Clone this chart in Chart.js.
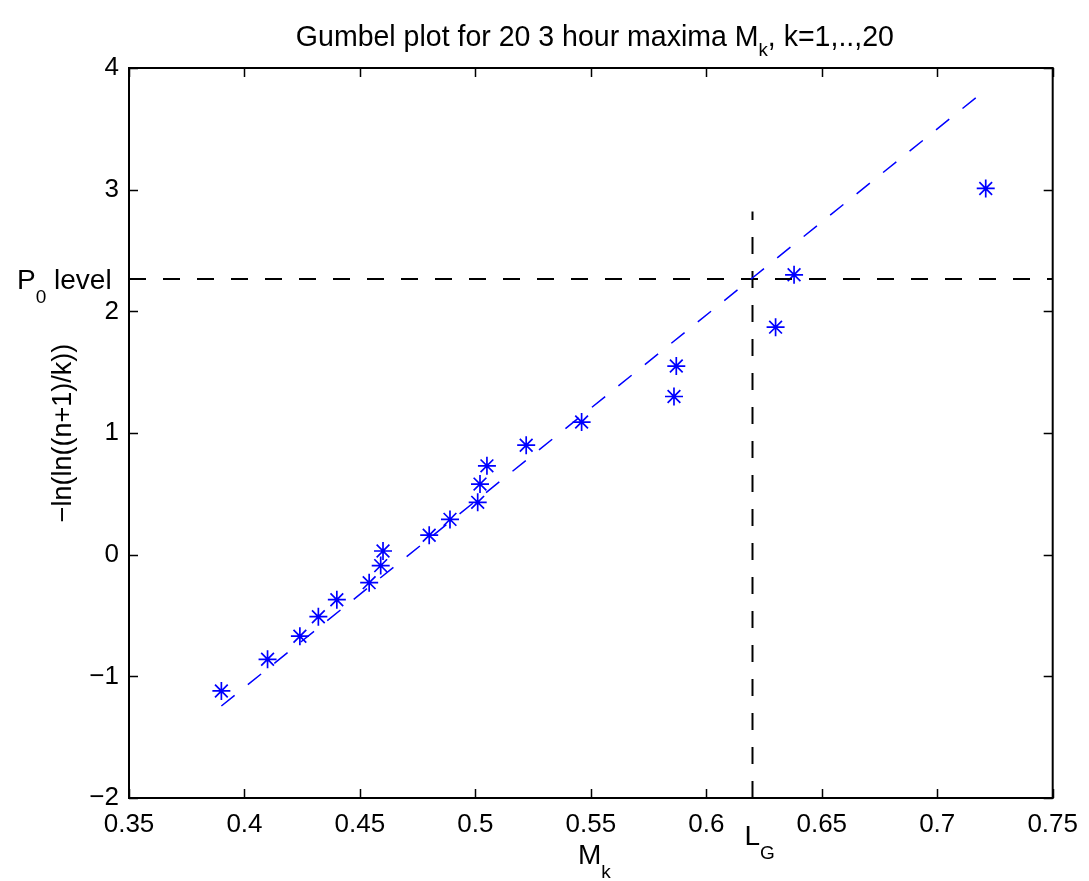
<!DOCTYPE html>
<html>
<head>
<meta charset="utf-8">
<script src="https://cdn.jsdelivr.net/npm/chart.js@4.4.0/dist/chart.umd.min.js"></script>
<style>
  body { margin: 0; background: #fff; }
  canvas { display: block; }
</style>
</head>
<body>
<canvas id="gumbel-chart" width="1089" height="881"></canvas>
<script>
// 3 hour maxima M_k and the plotting positions -ln(ln((n+1)/k))
const maxima = [0.390, 0.410, 0.424, 0.432, 0.440, 0.454, 0.459, 0.460, 0.480, 0.489,
                0.501, 0.502, 0.505, 0.522, 0.546, 0.586, 0.587, 0.630, 0.638, 0.721];
const gumbelY = [-1.12, -0.86, -0.67, -0.51, -0.37, -0.23, -0.09, 0.03, 0.16, 0.29,
                 0.43, 0.58, 0.73, 0.90, 1.09, 1.30, 1.55, 1.87, 2.30, 3.01];

// fitted line end points
const fitX = [0.390, 0.717];
const fitY = [-1.244, 3.76];

// P0 level and L_G guides
const p0Level = 2.266;
const p0X = [0.35, 0.75];
const lG = 0.620;
const lGY = [-2, 2.82];

const xMin = 0.35, xMax = 0.75, xStep = 0.05;
const yMin = -2, yMax = 4, yStep = 1;

const FONT = '"Liberation Sans", Arial, Helvetica, sans-serif';
const BLUE = '#0000ff';

function toPoints(xs, ys) {
    return xs.map((x, i) => ({ x: x, y: ys[i] }));
}

// draw text with a subscript, returns the end x
function subText(ctx, base, sub, x, y, size, subSize, drop) {
    ctx.font = size + 'px ' + FONT;
    ctx.fillText(base, x, y);
    x += ctx.measureText(base).width;
    ctx.font = subSize + 'px ' + FONT;
    ctx.fillText(sub, x, y + drop);
    return x + ctx.measureText(sub).width;
}

const decor = {
    id: 'decor',
    afterDatasetsDraw(chart) {
        const ctx = chart.ctx;
        const a = chart.chartArea;
        const xs = chart.scales.x;
        const ys = chart.scales.y;
        ctx.save();
        ctx.strokeStyle = '#000';
        ctx.lineWidth = 2;
        ctx.strokeRect(a.left, a.top, a.right - a.left, a.bottom - a.top);
        ctx.lineWidth = 1.5;
        ctx.beginPath();
        xs.ticks.forEach(t => {
            const px = Math.round(xs.getPixelForValue(t.value)) + 0.5;
            ctx.moveTo(px, a.bottom); ctx.lineTo(px, a.bottom - 9);
            ctx.moveTo(px, a.top); ctx.lineTo(px, a.top + 9);
        });
        ys.ticks.forEach(t => {
            const py = Math.round(ys.getPixelForValue(t.value)) + 0.5;
            ctx.moveTo(a.left, py); ctx.lineTo(a.left + 9, py);
            ctx.moveTo(a.right, py); ctx.lineTo(a.right - 9, py);
        });
        ctx.stroke();
        ctx.restore();
    },
    afterDraw(chart) {
        const ctx = chart.ctx;
        const xs = chart.scales.x;
        const ys = chart.scales.y;
        ctx.save();
        ctx.fillStyle = '#000';
        ctx.textBaseline = 'alphabetic';
        ctx.textAlign = 'left';

        // title (squeezed a little, like the original)
        const tA = 'Gumbel plot for 20 3 hour maxima M', tS = 'k', tB = ', k=1,..,20';
        ctx.font = '29px ' + FONT;
        let w = ctx.measureText(tA).width + ctx.measureText(tB).width;
        ctx.font = '19px ' + FONT;
        w += ctx.measureText(tS).width;
        const targetW = 598;
        const sx = targetW / w;
        ctx.save();
        ctx.translate((chart.chartArea.left + chart.chartArea.right) / 2 - targetW / 2 + 4, 46);
        ctx.scale(sx, 1);
        let ex = subText(ctx, tA, tS, 0, 0, 29, 19, 10);
        ctx.font = '29px ' + FONT;
        ctx.fillText(tB, ex, 0);
        ctx.restore();

        // x axis label
        subText(ctx, 'M', 'k', 578, 864, 28, 19, 14);

        // y axis label
        ctx.save();
        ctx.translate(71, 433);
        ctx.rotate(-Math.PI / 2);
        ctx.textAlign = 'center';
        ctx.font = '27px ' + FONT;
        ctx.fillText('\u2212ln(ln((n+1)/k))', 0, 0);
        ctx.restore();

        // P0 level label
        const py = ys.getPixelForValue(p0Level);
        ex = subText(ctx, 'P', '0', 17, py + 10, 28, 19, 14);
        ctx.font = '28px ' + FONT;
        ctx.fillText(' level', ex, py + 10);

        // L_G label
        const px = xs.getPixelForValue(lG);
        subText(ctx, 'L', 'G', px - 8, 845, 28, 19, 14);

        ctx.restore();
    }
};

const ctx = document.getElementById('gumbel-chart').getContext('2d');
const chart = new Chart(ctx, {
    type: 'scatter',
    data: {
        datasets: [
            {
                data: toPoints(fitX, fitY),
                showLine: true,
                borderColor: BLUE,
                borderWidth: 1.5,
                borderDash: [17, 17],
                pointRadius: 0
            },
            {
                data: toPoints(p0X, [p0Level, p0Level]),
                showLine: true,
                borderColor: '#000',
                borderWidth: 2,
                borderDash: [17, 17],
                pointRadius: 0
            },
            {
                data: toPoints([lG, lG], lGY),
                showLine: true,
                borderColor: '#000',
                borderWidth: 2,
                borderDash: [17, 17],
                pointRadius: 0
            },
            {
                data: toPoints(maxima, gumbelY),
                showLine: false,
                pointStyle: 'star',
                pointRadius: 9,
                borderColor: BLUE,
                backgroundColor: BLUE,
                pointBorderWidth: 1.7
            }
        ]
    },
    options: {
        responsive: false,
        devicePixelRatio: 1,
        animation: false,
        layout: { padding: { top: 68, right: 33, left: 0, bottom: 0 } },
        plugins: {
            legend: { display: false },
            tooltip: { enabled: false },
            title: { display: false }
        },
        scales: {
            x: {
                type: 'linear',
                min: xMin,
                max: xMax,
                grid: { display: false, drawTicks: false },
                border: { display: false },
                ticks: {
                    stepSize: xStep,
                    padding: 11,
                    color: '#000',
                    font: { family: FONT, size: 26 },
                    maxRotation: 0,
                    callback: v => String(Number(v.toFixed(2)))
                },
                afterFit: s => { s.height = 83; }
            },
            y: {
                type: 'linear',
                min: yMin,
                max: yMax,
                grid: { display: false, drawTicks: false },
                border: { display: false },
                ticks: {
                    stepSize: yStep,
                    padding: 10,
                    color: '#000',
                    font: { family: FONT, size: 26 },
                    callback: v => (v < 0 ? '\u2212' + Math.abs(v) : String(v))
                },
                afterFit: s => { s.width = 129; }
            }
        }
    },
    plugins: [decor]
});
</script>
</body>
</html>
